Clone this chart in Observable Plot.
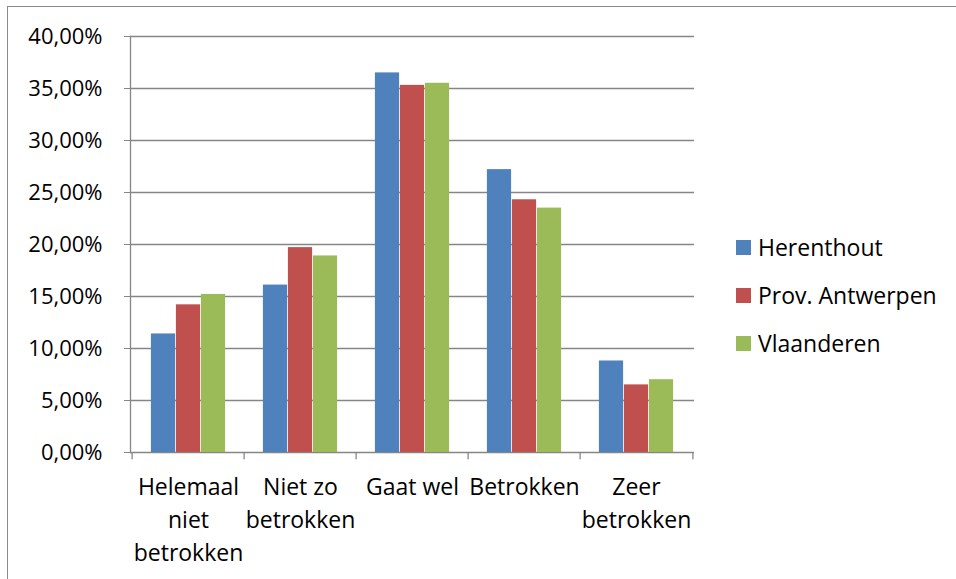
<!DOCTYPE html>
<html>
<head>
<meta charset="utf-8">
<script src="https://cdn.jsdelivr.net/npm/d3@7"></script>
<script src="https://cdn.jsdelivr.net/npm/@observablehq/plot@0.6"></script>
<style>
  html, body { margin: 0; padding: 0; background: #fff; }
  #wrap { position: relative; width: 956px; height: 579px; overflow: hidden; font-family: "Open Sans", sans-serif; }
  #border { position: absolute; left: 7px; top: 6px; width: 1000px; height: 1000px; border-left: 1.5px solid #8a8a8a; border-top: 1.5px solid #8a8a8a; box-sizing: border-box; }
  #chart { position: absolute; left: 0; top: 0; }
  #legend { position: absolute; left: 736px; top: 223px; font-size: 23px; color: #000; }
  .row { display: flex; align-items: center; height: 48px; }
  .sw { width: 15px; height: 15px; margin-right: 7px; }
</style>
</head>
<body>
<div id="wrap"><div id="border"></div><div id="chart"></div><div id="legend"></div></div>
<script>
const categories = ["Helemaal niet betrokken", "Niet zo betrokken", "Gaat wel", "Betrokken", "Zeer betrokken"];
const tickLabels = ["Helemaal\nniet\nbetrokken", "Niet zo\nbetrokken", "Gaat wel", "Betrokken", "Zeer\nbetrokken"];
const seriesNames = ["Herenthout", "Prov. Antwerpen", "Vlaanderen"];
const herenthout = [11.4, 16.1, 36.5, 27.2, 8.8];
const provAntwerpen = [14.2, 19.7, 35.3, 24.3, 6.5];
const vlaanderen = [15.2, 18.9, 35.5, 23.5, 7.0];
const yTicks = [0, 5, 10, 15, 20, 25, 30, 35, 40];
const colors = ["#4F81BD", "#C0504D", "#9BBB59"];

const seriesValues = [herenthout, provAntwerpen, vlaanderen];
const W = 956, H = 579;
const mL = 130, mR = 262, mT = 36, mB = 127;
const step = (W - mL - mR) / categories.length;
const barW = 25;
const inset = (step - barW) / 2;

const barMarks = seriesValues.map((vals, k) =>
  Plot.barY(categories.map((c, i) => ({category: c, value: vals[i]})), {
    x: "category", y: "value", fill: colors[k],
    dx: (k - 1) * barW, insetLeft: inset, insetRight: inset
  })
);

const fmt = d => d.toFixed(2).replace(".", ",") + "%";

const chart = Plot.plot({
  width: W, height: H,
  marginLeft: mL, marginRight: mR, marginTop: mT, marginBottom: mB,
  style: {fontFamily: "Open Sans, sans-serif", fontSize: "22px", color: "#000", background: "transparent"},
  x: {domain: categories, padding: 0},
  y: {domain: [0, 40], ticks: yTicks},
  marks: [
    Plot.ruleY(yTicks, {stroke: "#868686", strokeWidth: 1.3, strokeOpacity: 1}),
    ...barMarks,
    Plot.frame({anchor: "left", stroke: "#868686", strokeWidth: 1.3, strokeOpacity: 1}),
    Plot.ruleX(categories, {x: d => d, dx: -step / 2, y1: 0, y2: -0.7, stroke: "#868686", strokeWidth: 1.3}),
    Plot.ruleX([categories[categories.length - 1]], {x: d => d, dx: step / 2, y1: 0, y2: -0.7, stroke: "#868686", strokeWidth: 1.3}),
    Plot.axisY({ticks: yTicks, tickFormat: fmt, tickSize: 6, tickPadding: 22, fontSize: 22, stroke: "#868686", strokeOpacity: 1, fill: "#000", label: null}),
    Plot.axisX({tickSize: 0, tickPadding: 19, fontSize: 23, tickFormat: d => tickLabels[categories.indexOf(d)], lineHeight: 1.43, fill: "#000", label: null}),
  ]
});
document.getElementById("chart").appendChild(chart);

const legend = document.getElementById("legend");
seriesNames.forEach((name, k) => {
  const row = document.createElement("div");
  row.className = "row";
  row.innerHTML = `<div class="sw" style="background:${colors[k]}"></div><span>${name}</span>`;
  legend.appendChild(row);
});
</script>
</body>
</html>
